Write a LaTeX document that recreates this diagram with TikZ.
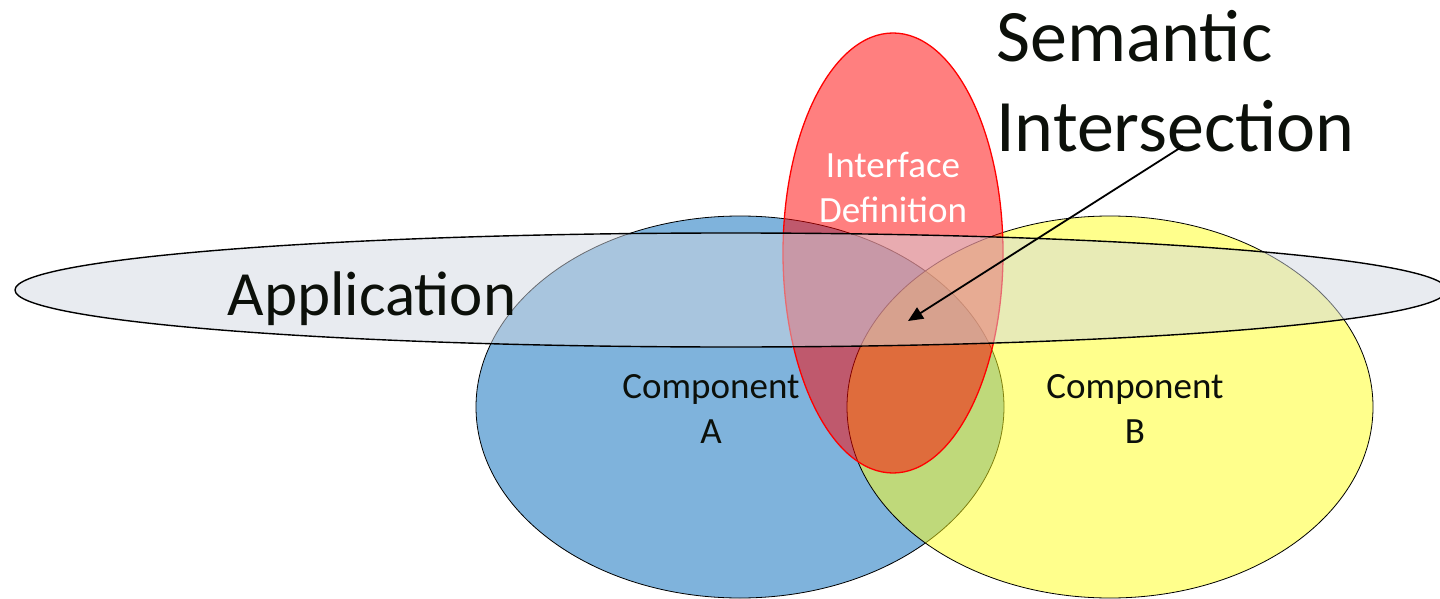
\documentclass[tikz,border=0pt]{standalone}
\usepackage{fontspec}
\setmainfont{Carlito}
\usepackage{tikz}
\usetikzlibrary{arrows.meta}
\definecolor{compA}{HTML}{7FB3DC}
\definecolor{compB}{RGB}{255,255,26}
\definecolor{appfill}{RGB}{209,215,225}
\definecolor{inkblack}{HTML}{0C100A}

\begin{document}
\begin{tikzpicture}[x=1pt,y=-1pt,>={Triangle[length=15pt,width=13pt]}]
    \tikzstyle{every node}=[inner sep=0pt,text=inkblack,align=center,anchor=base]
    \tikzstyle{venn}=[draw=black,line width=0.8pt]
    \tikzstyle{halfshade}=[fill opacity=0.5]
    \tikzstyle{hugetext}=[font=\fontsize{74}{90}\selectfont]
    \tikzstyle{bigtext}=[font=\fontsize{63}{74}\selectfont]
    \tikzstyle{midtext}=[font=\fontsize{37}{44.5}\selectfont]
    \useasboundingbox (0,0) rectangle (1440,599);
    \path[venn,fill=compA] (740,407) ellipse [x radius=264,y radius=191];
    \path[venn,halfshade,fill=compB] (1110,407) ellipse [x radius=263,y radius=191];
    \path[halfshade,draw=red,fill=red,line width=1.3pt] (893,253) ellipse [x radius=110,y radius=220];
    \path[halfshade,draw=black,fill=appfill,line width=1.4pt] (731,290) ellipse [x radius=716,y radius=57];
    \node[bigtext] (app) at (372,315) {Application};
    \node[midtext] (compa) at (711,443) {Component\\A};
    \node[midtext] (compb) at (1135,443) {Component\\B};
    \node[midtext,text=white] (iface) at (893,222) {Interface\\Definition};
    \node[hugetext,anchor=base west,align=left] (semantic) at (996,152) {Semantic\\Intersection};
    \coordinate (semfrom) at (1183,146);
    \coordinate (semto) at (908,321);
    \draw[->,line width=1.8pt] (semfrom) -- (semto);
\end{tikzpicture}
\end{document}
